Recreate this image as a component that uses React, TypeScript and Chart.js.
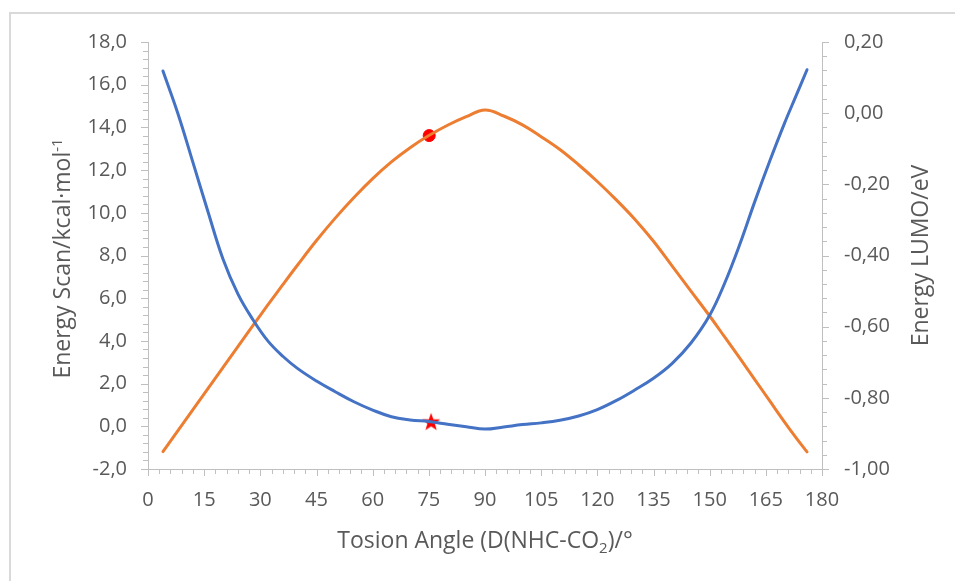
import React, { useEffect, useRef } from "react";
import { Chart, registerables } from "chart.js";

Chart.register(...registerables);

// ---------- data ----------
const angles = [4, 8, 12, 16, 20, 24, 28, 32, 36, 40, 45, 50, 55, 60, 65, 70, 75, 80, 85, 90, 95, 100, 105, 110, 115, 120, 125, 130, 135, 140, 145, 150, 154, 158, 162, 166, 170, 173, 176];
const energyScan = [16.64, 14.64, 12.36, 10.06, 7.85, 6.2, 5.0, 4.0, 3.28, 2.7, 2.12, 1.62, 1.15, 0.76, 0.45, 0.3, 0.22, 0.1, -0.02, -0.13, -0.03, 0.08, 0.16, 0.28, 0.48, 0.78, 1.2, 1.7, 2.25, 2.95, 3.9, 5.2, 6.7, 8.5, 10.5, 12.4, 14.2, 15.45, 16.7];
const energyLumo = [-0.951, -0.892, -0.833, -0.774, -0.715, -0.656, -0.597, -0.539, -0.482, -0.426, -0.358, -0.295, -0.237, -0.184, -0.137, -0.097, -0.063, -0.034, -0.01, 0.009, -0.008, -0.033, -0.066, -0.102, -0.145, -0.192, -0.243, -0.298, -0.36, -0.43, -0.5, -0.57, -0.629, -0.688, -0.748, -0.808, -0.868, -0.911, -0.952];
const circleMarker = [{ x: 75.1, y: -0.063 }];
const starMarker = [{ x: 75.6, y: 0.22 }];

const xTicks = { min: 0, max: 180, step: 15, minor: 3 };
const leftTicks = { min: -2, max: 18, step: 2, minor: 0.4 };
const rightTicks = { min: -1, max: 0.2, step: 0.2, minor: 0.04 };

const xTitle = [
  { text: "Tosion Angle (D(NHC-CO", kind: "n" },
  { text: "2", kind: "sub" },
  { text: ")/°", kind: "n" },
];
const leftTitle = [
  { text: "Energy Scan/kcal·mol", kind: "n" },
  { text: "-1", kind: "sup" },
];
const rightTitle = [{ text: "Energy LUMO/eV", kind: "n" }];

// ---------- styles ----------
const FONT = "'Open Sans', 'Noto Sans', sans-serif";
const TEXT = "#595959";
const AXIS = "#bfbfbf";
const BLUE = "#4472C4";
const ORANGE = "#ED7D31";
const W = 955;
const H = 581;

function makeStar(): HTMLCanvasElement {
  const c = document.createElement("canvas");
  c.width = 20;
  c.height = 20;
  const g = c.getContext("2d")!;
  const cx = 10, cy = 10.8, R = 9.6, r = 3.9;
  g.beginPath();
  for (let i = 0; i < 10; i++) {
    const a = -Math.PI / 2 + (i * Math.PI) / 5;
    const rad = i % 2 === 0 ? R : r;
    const px = cx + rad * Math.cos(a);
    const py = cy + rad * Math.sin(a);
    if (i === 0) g.moveTo(px, py);
    else g.lineTo(px, py);
  }
  g.closePath();
  g.fillStyle = "#FF0000";
  g.fill();
  return c;
}

type Part = { text: string; kind: string };

function drawRich(ctx: CanvasRenderingContext2D, parts: Part[], size: number) {
  const small = Math.round(size * 0.65);
  let total = 0;
  const widths: number[] = [];
  for (const p of parts) {
    ctx.font = `${p.kind === "n" ? size : small}px ${FONT}`;
    const w = ctx.measureText(p.text).width;
    widths.push(w);
    total += w;
  }
  let x = -total / 2;
  parts.forEach((p, i) => {
    ctx.font = `${p.kind === "n" ? size : small}px ${FONT}`;
    const dy = p.kind === "sup" ? -size * 0.36 : p.kind === "sub" ? size * 0.22 : 0;
    ctx.fillText(p.text, x, dy);
    x += widths[i];
  });
}

const decorPlugin = {
  id: "decor",
  afterDraw(chart: any) {
    const ctx: CanvasRenderingContext2D = chart.ctx;
    const { left, right, top, bottom } = chart.chartArea;
    ctx.save();
    // outer border
    ctx.strokeStyle = "#d9d9d9";
    ctx.lineWidth = 2;
    ctx.strokeRect(10, 13, chart.width + 20, chart.height + 20);

    // tick marks
    ctx.strokeStyle = AXIS;
    ctx.lineWidth = 1;
    const xs = chart.scales.x;
    const ys = chart.scales.y;
    const y1 = chart.scales.y1;
    ctx.beginPath();
    const nx = Math.round((xTicks.max - xTicks.min) / xTicks.minor);
    for (let i = 0; i <= nx; i++) {
      const v = xTicks.min + i * xTicks.minor;
      const px = Math.round(xs.getPixelForValue(v)) + 0.5;
      const len = i % Math.round(xTicks.step / xTicks.minor) === 0 ? 7 : 5;
      ctx.moveTo(px, bottom);
      ctx.lineTo(px, bottom + len);
    }
    const nl = Math.round((leftTicks.max - leftTicks.min) / leftTicks.minor);
    for (let i = 0; i <= nl; i++) {
      const v = leftTicks.min + i * leftTicks.minor;
      const py = Math.round(ys.getPixelForValue(v)) + 0.5;
      const len = i % Math.round(leftTicks.step / leftTicks.minor) === 0 ? 7 : 5;
      ctx.moveTo(left, py);
      ctx.lineTo(left - len, py);
    }
    const nr = Math.round((rightTicks.max - rightTicks.min) / rightTicks.minor);
    for (let i = 0; i <= nr; i++) {
      const v = rightTicks.min + i * rightTicks.minor;
      const py = Math.round(y1.getPixelForValue(v)) + 0.5;
      const len = i % Math.round(rightTicks.step / rightTicks.minor) === 0 ? 7 : 5;
      ctx.moveTo(right, py);
      ctx.lineTo(right + len, py);
    }
    ctx.stroke();

    // titles
    ctx.fillStyle = TEXT;
    ctx.textBaseline = "alphabetic";
    ctx.textAlign = "left";
    const midY = (top + bottom) / 2;
    ctx.save();
    ctx.translate((left + right) / 2, 548);
    drawRich(ctx, xTitle, 23);
    ctx.restore();

    ctx.save();
    ctx.translate(70, midY + 3);
    ctx.rotate(-Math.PI / 2);
    drawRich(ctx, leftTitle, 23);
    ctx.restore();

    ctx.save();
    ctx.translate(928, midY);
    ctx.rotate(-Math.PI / 2);
    drawRich(ctx, rightTitle, 23);
    ctx.restore();

    ctx.restore();
  },
};

function fmt(v: number, d: number) {
  if (Math.abs(v) < 1e-9) v = 0;
  return v.toFixed(d).replace(".", ",");
}

export default function App() {
  const ref = useRef<HTMLCanvasElement>(null);
  useEffect(() => {
    document.body.style.margin = "0";
    document.body.style.overflow = "hidden";
    if (!ref.current) return;
    const star = makeStar();
    const tickFont = { family: FONT, size: 20 };
    const chart = new Chart(ref.current, {
      type: "line",
      data: {
        datasets: [
          {
            label: "Energy Scan",
            data: angles.map((a, i) => ({ x: a, y: energyScan[i] })),
            borderColor: BLUE,
            borderWidth: 3,
            pointRadius: 0,
            tension: 0.4,
            yAxisID: "y",
            borderCapStyle: "round",
          },
          {
            label: "Energy LUMO",
            data: angles.map((a, i) => ({ x: a, y: energyLumo[i] })),
            borderColor: ORANGE,
            borderWidth: 3,
            pointRadius: 0,
            tension: 0.4,
            yAxisID: "y1",
            borderCapStyle: "round",
          },
          {
            label: "LUMO marker",
            data: circleMarker,
            showLine: false,
            pointStyle: "circle",
            pointRadius: 6,
            pointBackgroundColor: "#FF0000",
            pointBorderColor: "#FF0000",
            pointBorderWidth: 1,
            yAxisID: "y1",
          },
          {
            label: "Scan marker",
            data: starMarker,
            showLine: false,
            pointStyle: star as any,
            pointRadius: 10,
            yAxisID: "y",
          },
        ],
      },
      options: {
        animation: false,
        responsive: false,
        devicePixelRatio: 1,
        layout: { padding: { top: 42, left: 0, right: 0, bottom: 0 } },
        plugins: { legend: { display: false }, tooltip: { enabled: false } },
        scales: {
          x: {
            type: "linear",
            min: xTicks.min,
            max: xTicks.max,
            afterFit: (s: any) => { s.height = 112; },
            ticks: { stepSize: xTicks.step, color: TEXT, font: tickFont, padding: 19, maxRotation: 0, autoSkip: false },
            grid: { display: false, drawTicks: false },
            border: { display: true, color: AXIS, width: 1 },
          },
          y: {
            type: "linear",
            position: "left",
            min: leftTicks.min,
            max: leftTicks.max,
            afterFit: (s: any) => { s.width = 148; },
            ticks: { stepSize: leftTicks.step, color: TEXT, font: tickFont, padding: 21, callback: (v: any) => fmt(Number(v), 1) },
            grid: { display: false, drawTicks: false },
            border: { display: true, color: AXIS, width: 1 },
          },
          y1: {
            type: "linear",
            position: "right",
            min: rightTicks.min,
            max: rightTicks.max,
            afterFit: (s: any) => { s.width = 133; },
            ticks: { stepSize: rightTicks.step, color: TEXT, font: tickFont, padding: 22, callback: (v: any) => fmt(Number(v), 2) },
            grid: { display: false, drawTicks: false },
            border: { display: true, color: AXIS, width: 1 },
          },
        },
      } as any,
      plugins: [decorPlugin],
    });
    return () => chart.destroy();
  }, []);
  return (
    <div style={{ width: W, height: H }}>
      <canvas ref={ref} width={W} height={H} style={{ display: "block" }} />
    </div>
  );
}
